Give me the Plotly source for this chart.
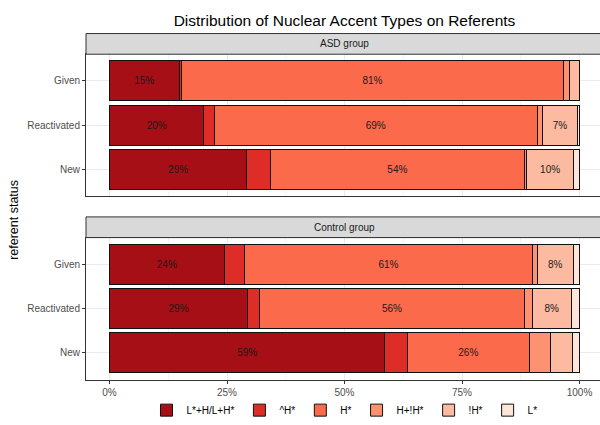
import plotly.graph_objects as go

statuses = ["Given", "Reactivated", "New"]
accent_types = ["L*+H/L+H*", "^H*", "H*", "H+!H*", "!H*", "L*"]
colors = ["#A50F15", "#DE2D26", "#FB6A4A", "#FC9272", "#FCBBA1", "#FEE5D9"]

# percentages per accent type, order: Given, Reactivated, New
asd_values = {
    "L*+H/L+H*": [14.8, 20.1, 29.2],
    "^H*":       [0.6, 2.2, 5.0],
    "H*":        [81.1, 68.7, 54.1],
    "H+!H*":     [1.3, 1.2, 0.5],
    "!H*":       [2.2, 7.3, 9.9],
    "L*":        [0.0, 0.5, 1.3],
}
control_values = {
    "L*+H/L+H*": [24.4, 29.4, 58.6],
    "^H*":       [4.4, 2.5, 4.7],
    "H*":        [61.1, 56.4, 26.1],
    "H+!H*":     [1.1, 1.6, 4.4],
    "!H*":       [7.7, 8.4, 4.8],
    "L*":        [1.3, 1.7, 1.4],
}
x_tick_vals = [0, 25, 50, 75, 100]
x_tick_text = ["0%", "25%", "50%", "75%", "100%"]
panel_titles = ["ASD group", "Control group"]

W, H = 600, 425
FONT = "Liberation Sans, Arial, Helvetica, sans-serif"

def px_x(p):
    return p / W

def px_y(p):
    return 1 - p / H

fig = go.Figure()

for gi, (vals, xa, ya) in enumerate([(asd_values, "x", "y"), (control_values, "x2", "y2")]):
    for t, c in zip(accent_types, colors):
        v = vals[t]
        fig.add_trace(go.Bar(
            y=statuses, x=v, orientation="h", name=t,
            marker=dict(color=c, line=dict(color="#111111", width=1)),
            width=0.9,
            text=[f"{round(a)}%" if a >= 6 else "" for a in v],
            textposition="inside", insidetextanchor="middle", textangle=0,
            textfont=dict(color="#1a1a1a", size=10, family=FONT),
            legendgroup=t, showlegend=(gi == 0),
            xaxis=xa, yaxis=ya, hoverinfo="skip",
        ))

# panel runs from x=86 px past the right edge of the 600 px canvas (ggplot 5% expansion)
px_left = 86
px_per_unit = 4.7
x_max = -5 + (W - px_left) / px_per_unit
panel_center = px_left + 110 * px_per_unit / 2

top_panel = (55, 199)
bot_panel = (241, 385)
top_strip = (34, 55)
bot_strip = (220, 241)

xcommon = dict(
    range=[-5, x_max], domain=[px_x(px_left), 1],
    showgrid=True, gridcolor="#EBEBEB", gridwidth=1,
    zeroline=False, showline=True, mirror=True, linecolor="#333333", linewidth=1,
    tickvals=x_tick_vals, ticktext=x_tick_text,
    minor=dict(tickvals=[12.5, 37.5, 62.5, 87.5], showgrid=True, gridcolor="#F4F4F4", gridwidth=1, ticks=""),
    tickfont=dict(size=10, color="#4D4D4D", family=FONT),
    automargin=False, fixedrange=True,
)
ycommon = dict(
    range=[-0.6, 2.6], categoryorder="array", categoryarray=["New", "Reactivated", "Given"],
    showgrid=True, gridcolor="#EBEBEB", gridwidth=1,
    zeroline=False, showline=True, mirror=False, linecolor="#333333", linewidth=1,
    ticks="outside", ticklen=3, tickcolor="#333333", tickwidth=1,
    tickfont=dict(size=10, color="#4D4D4D", family=FONT),
    automargin=False, fixedrange=True,
)

fig.update_layout(
    width=W, height=H,
    margin=dict(l=0, r=0, t=0, b=0),
    paper_bgcolor="white", plot_bgcolor="white",
    barmode="stack",
    font=dict(family=FONT, color="#000000"),
    xaxis=dict(**xcommon, anchor="y", showticklabels=False, ticks=""),
    yaxis=dict(**ycommon, anchor="x", domain=[px_y(top_panel[1]), px_y(top_panel[0])]),
    xaxis2=dict(**xcommon, anchor="y2", matches="x", ticks="outside", ticklen=3, tickcolor="#333333"),
    yaxis2=dict(**ycommon, anchor="x2", domain=[px_y(bot_panel[1]), px_y(bot_panel[0])]),
    title=dict(text="Distribution of Nuclear Accent Types on Referents",
               x=px_x(panel_center), xanchor="center", y=px_y(21), yanchor="middle",
               font=dict(size=15.5, color="#000000", family=FONT)),
    legend=dict(orientation="h", x=px_x(panel_center), xanchor="center", y=px_y(416), yanchor="middle",
                font=dict(size=10, color="#000000", family=FONT),
                itemwidth=30, tracegroupgap=0, traceorder="normal", bgcolor="rgba(0,0,0,0)"),
    showlegend=True,
)

shapes = []
annotations = []
for (s0, s1), title in zip([top_strip, bot_strip], panel_titles):
    shapes.append(dict(type="rect", xref="paper", yref="paper",
                       x0=px_x(px_left), x1=1.02, y0=px_y(s1), y1=px_y(s0),
                       fillcolor="#D9D9D9", line=dict(color="#333333", width=1), layer="above"))
    annotations.append(dict(text=title, xref="paper", yref="paper",
                            x=px_x(panel_center), y=px_y((s0 + s1) / 2),
                            xanchor="center", yanchor="middle", showarrow=False,
                            font=dict(size=10, color="#1A1A1A", family=FONT)))
annotations.append(dict(text="referent status", xref="paper", yref="paper",
                        x=px_x(14), y=px_y(223), textangle=-90,
                        xanchor="center", yanchor="middle", showarrow=False,
                        font=dict(size=12.5, color="#000000", family=FONT)))
fig.update_layout(shapes=shapes, annotations=annotations)

fig.write_html("out.html", config={"displayModeBar": False},
               post_script="document.body.style.margin='0px';document.body.style.overflow='hidden';")
